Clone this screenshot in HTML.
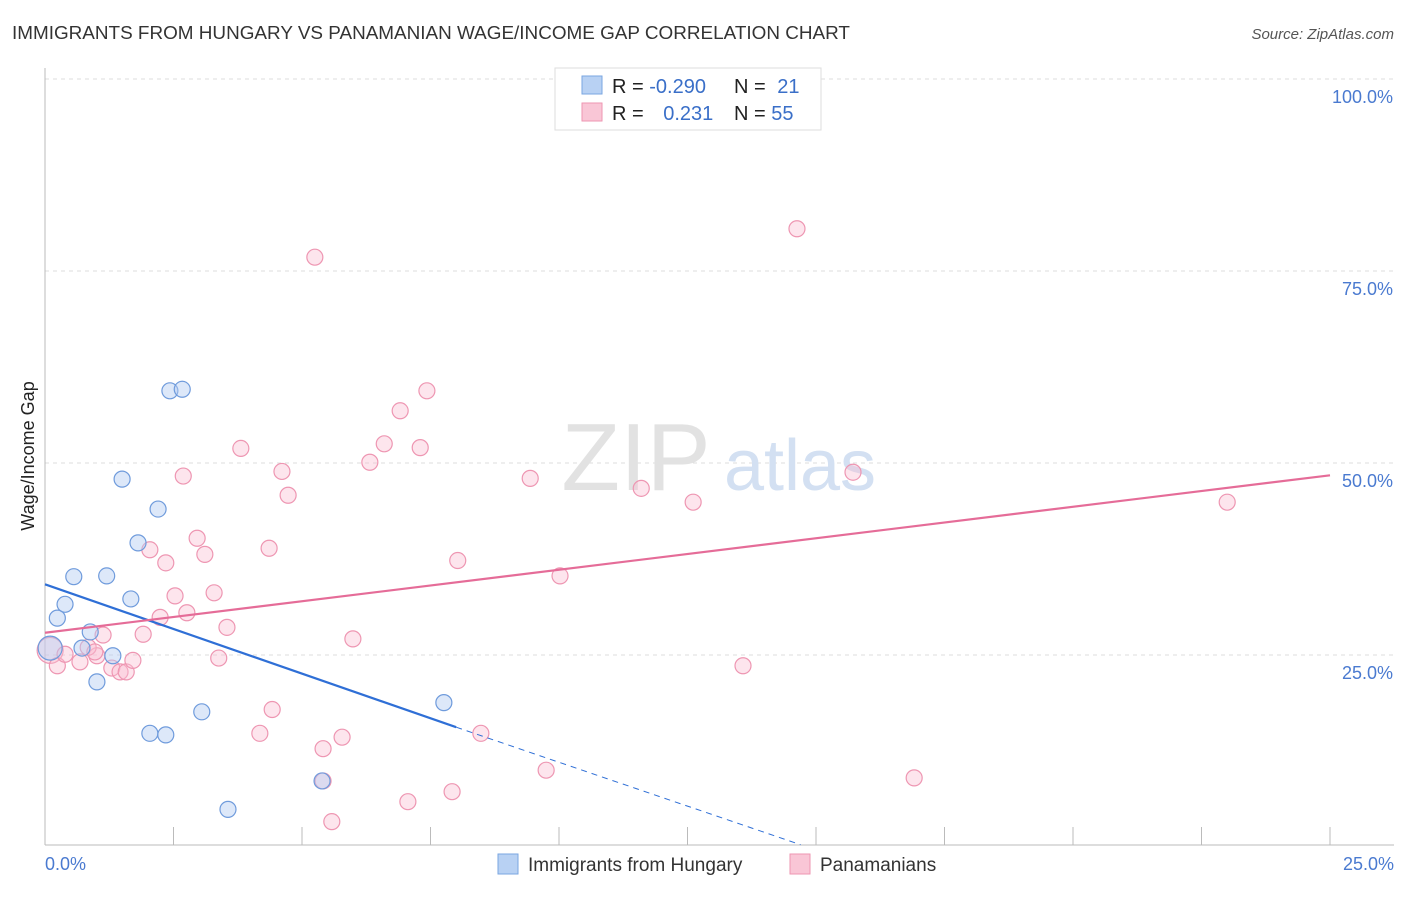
<!DOCTYPE html>
<html><head><meta charset="utf-8"><style>
body{margin:0;background:#fff;font-family:"Liberation Sans",sans-serif;}
svg text{font-family:"Liberation Sans",sans-serif;}
</style></head><body>
<svg width="1406" height="892" xmlns="http://www.w3.org/2000/svg">
<text x="12" y="39" font-size="18.9" fill="#333">IMMIGRANTS FROM HUNGARY VS PANAMANIAN WAGE/INCOME GAP CORRELATION CHART</text>
<text x="1394" y="39" font-size="15" fill="#555" font-style="italic" text-anchor="end">Source: ZipAtlas.com</text>
<g id="grid"></g>
<g id="axes"></g>
<text x="636" y="490" font-size="96" fill="#e2e2e2" font-family="Liberation Serif" text-anchor="middle">ZIP</text>
<text x="800" y="490" font-size="72" fill="#d3e0f2" text-anchor="middle">atlas</text>
<g id="pts"></g>
<g id="lines"></g>
<text transform="translate(34,456) rotate(-90)" font-size="18" fill="#222" text-anchor="middle">Wage/Income Gap</text>
<g>
<rect x="555" y="68" width="266" height="62" fill="#fff" stroke="#ddd"/>
<rect x="582" y="76" width="20" height="18" fill="#b8d1f3" stroke="#7aa6e0"/>
<rect x="582" y="103" width="20" height="18" fill="#f9c6d6" stroke="#ee96b2"/>
<text x="612" y="93" font-size="20" fill="#222">R = <tspan fill="#3a6fc8">-0.290</tspan></text>
<text x="734" y="93" font-size="20" fill="#222">N = <tspan fill="#3a6fc8" dx="6">21</tspan></text>
<text x="612" y="120" font-size="20" fill="#222">R = <tspan fill="#3a6fc8" dx="14">0.231</tspan></text>
<text x="734" y="120" font-size="20" fill="#222">N = <tspan fill="#3a6fc8">55</tspan></text>
</g>
<g>
<rect x="498" y="854" width="20" height="20" fill="#b8d1f3" stroke="#7aa6e0"/>
<text x="528" y="871" font-size="19" fill="#333">Immigrants from Hungary</text>
<rect x="790" y="854" width="20" height="20" fill="#f9c6d6" stroke="#ee96b2"/>
<text x="820" y="871" font-size="19" fill="#333">Panamanians</text>
</g>
</svg>
<script>
const xTicks=[0,2.5,5,7.5,10,12.5,15,17.5,20,22.5,25];
const yTicks=[25,50,75,100];
const yTickLabels=["25.0%","50.0%","75.0%","100.0%"];
const blueX=[0.1,0.24,0.39,0.56,1.2,0.88,0.72,1.01,1.32,1.5,1.81,1.67,2.2,2.43,2.67,2.04,2.35,3.05,3.56,5.39,7.76];
const blueY=[25.9,29.8,31.6,35.2,35.3,28.0,25.9,21.5,24.9,47.9,39.6,32.3,44.0,59.4,59.6,14.8,14.6,17.6,4.9,8.6,18.8];
const pinkX=[0.1,0.24,0.39,0.68,1.01,1.13,0.84,1.3,1.46,1.58,1.71,1.91,2.04,2.35,2.24,2.53,2.69,2.76,2.96,3.11,3.29,3.54,3.38,3.81,4.36,4.18,4.42,4.61,4.73,5.25,5.41,5.41,5.58,5.78,5.99,6.32,6.6,6.91,7.06,7.3,7.43,7.92,8.03,8.48,9.44,9.75,10.02,11.6,12.61,13.58,14.63,15.72,16.91,23.0,0.97];
const pinkY=[25.6,23.6,25.1,24.1,24.9,27.6,26.0,23.3,22.8,22.8,24.3,27.7,38.7,37.0,29.9,32.7,48.3,30.5,40.2,38.1,33.1,28.6,24.6,51.9,38.9,14.8,17.9,48.9,45.8,76.8,12.8,8.6,3.3,14.3,27.1,50.1,52.5,56.8,5.9,52.0,59.4,7.2,37.3,14.8,48.0,10.0,35.3,46.7,44.9,23.6,80.5,48.8,9.0,44.9,25.4];
const blueLine=[[0,34.2],[8,15.6],[14.7,0.3]];
const pinkLine=[[0,27.9],[25,48.4]];
const NS="http://www.w3.org/2000/svg";
const X=v=>45+v/25*1285, Y=v=>847-v/100*768;
function mk(t,a,p){const e=document.createElementNS(NS,t);for(const k in a)e.setAttribute(k,a[k]);p.appendChild(e);return e;}
const grid=document.getElementById('grid'),axes=document.getElementById('axes');
yTicks.forEach((t,i)=>{const g=mk('line',{x1:45,x2:1394,y1:Y(t),y2:Y(t),stroke:'#ddd','stroke-dasharray':'4,4'},grid);

const l=mk('text',{x:1393,y:Y(t)+24,'font-size':18,fill:'#4a7ad0','text-anchor':'end'},axes);l.textContent=yTickLabels[i];
});
mk('line',{x1:45,x2:45,y1:68,y2:845,stroke:'#bbb'},axes);
mk('line',{x1:45,x2:1394,y1:845,y2:845,stroke:'#bbb'},axes);
xTicks.forEach(t=>{if(t>0){const e=mk('line',{x1:X(t),x2:X(t),y1:827,y2:845,stroke:'#bbb'},axes);}});
[[0,"0.0%","start",45],[25,"25.0%","end",1394]].forEach(d=>{const l=mk('text',{x:d[3],y:870,'font-size':18,fill:'#4a7ad0','text-anchor':d[2]},axes);l.textContent=d[1];
});
const pts=document.getElementById('pts');
pinkX.forEach((x,i)=>{const c=mk('circle',{cx:X(x),cy:Y(pinkY[i]),r:i==0?13:8,fill:'rgba(249,190,210,0.4)',stroke:'#ee96b2','stroke-width':1.2},pts);
});
blueX.forEach((x,i)=>{const c=mk('circle',{cx:X(x),cy:Y(blueY[i]),r:i==0?12:8,fill:'rgba(180,205,242,0.45)',stroke:'#6f9bdc','stroke-width':1.2},pts);
});
const ln=document.getElementById('lines');
let e=mk('line',{x1:X(blueLine[0][0]),y1:Y(blueLine[0][1]),x2:X(blueLine[1][0]),y2:Y(blueLine[1][1]),stroke:'#2f6fd6','stroke-width':2.2},ln);

e=mk('line',{x1:X(blueLine[1][0]),y1:Y(blueLine[1][1]),x2:X(blueLine[2][0]),y2:Y(blueLine[2][1]),stroke:'#2f6fd6','stroke-width':1,'stroke-dasharray':'6,5'},ln);

e=mk('line',{x1:X(pinkLine[0][0]),y1:Y(pinkLine[0][1]),x2:X(pinkLine[1][0]),y2:Y(pinkLine[1][1]),stroke:'#e56c98','stroke-width':2.2},ln);

</script>
</body></html>
